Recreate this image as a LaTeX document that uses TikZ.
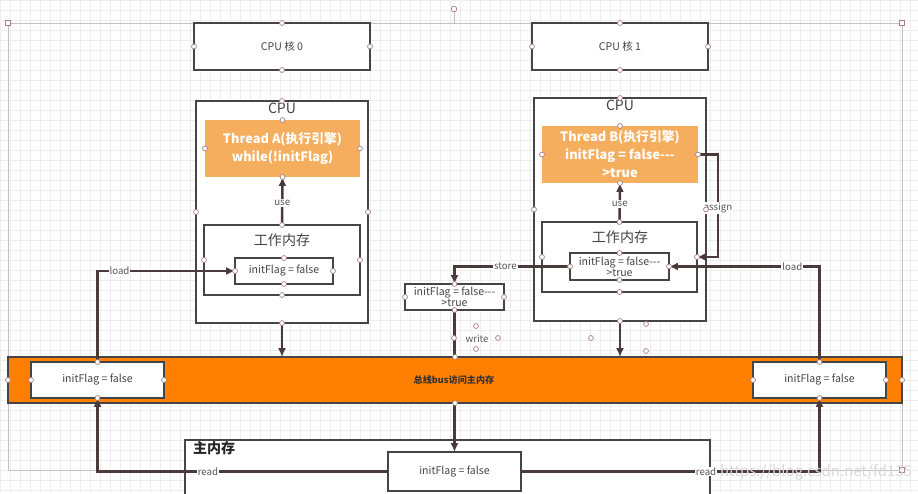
\documentclass[tikz,border=0pt]{standalone}
\usepackage{fontspec}
\setmainfont{Noto Sans CJK SC}
\usetikzlibrary{arrows.meta}
\definecolor{wire}{HTML}{4A3A3A}
\definecolor{edge}{HTML}{454545}
\definecolor{txt}{HTML}{444444}
\definecolor{lbltxt}{HTML}{555555}
\definecolor{engine}{HTML}{F5AE5E}
\definecolor{busc}{HTML}{FF8000}
\definecolor{hdlc}{HTML}{A88080}
\definecolor{gridc}{HTML}{EDEDED}
\definecolor{framec}{HTML}{C8C0C0}

\begin{document}
\begin{tikzpicture}[x=0.02cm, y=-0.02cm,
  sz/.style 2 args={minimum width=#1*0.02cm, minimum height=#2*0.02cm},
  every node/.style={inner sep=0pt, outer sep=0pt, text=txt, font=\fontsize{6}{6.4}\selectfont},
  box/.style={draw=edge, line width=0.9pt, fill=white, align=center},
  engine/.style={fill=engine, text=white, align=center, font=\bfseries\fontsize{7.3}{10.2}\selectfont},
  title/.style={font=\fontsize{8}{9}\selectfont},
  lbl/.style={fill=white, inner sep=0.6pt, text=lbltxt, font=\fontsize{5.5}{6}\selectfont},
  link/.style={draw=wire, line width=1.4pt},
  arr/.style={link, -{Latex[length=5pt,width=4.5pt]}},
  hdl/.style={draw=hdlc, fill=white, line width=0.4pt}]
\useasboundingbox (0,0) rectangle (918,493);
\fill[white] (0,0) rectangle (918,493);
\foreach \gx in {0,10,...,910} \draw[gridc, line width=0.3pt] (\gx,0) -- (\gx,493);
\foreach \gy in {0,10,...,490} \draw[gridc, line width=0.3pt] (0,\gy) -- (918,\gy);
\draw[framec, line width=0.5pt] (8,23) rectangle (902,470);
\draw[framec, line width=0.5pt] (454,23) -- (454,10);

\node[box, sz={176}{47}] (k0) at (282,46.5) {CPU 核 0};
\node[box, sz={176}{47}] (k1) at (620,46.5) {CPU 核 1};

\node[box, sz={172}{222}] (ca) at (282,212) {};
\node[title] (cal) at (282,108) {CPU};
\node[engine, sz={155}{57}] (ta) at (282.5,148.5) {Thread A(执行引擎)\\while(!initFlag)};
\node[box, sz={156}{70}] (wa) at (282,260) {};
\node[title] (wal) at (282,240) {工作内存};
\node[box, sz={98}{26}] (ia) at (284,271) {initFlag = false};

\node[box, sz={172}{223}] (cb) at (620,209.5) {};
\node[title] (cbl) at (620,105) {CPU};
\node[engine, sz={156}{57}] (tb) at (620,154.5) {Thread B(执行引擎)\\initFlag = false-{}-{}-\\>true};
\node[box, sz={155}{70}] (wb) at (619.5,257) {};
\node[title] (wbl) at (620,237) {工作内存};
\node[box, sz={99}{27}] (ib) at (619.5,266.5) {initFlag = false-{}-{}-\\>true};

\node[box, sz={99}{26}] (sb) at (454.5,297) {initFlag = false-{}-{}-\\>true};

\node[box, sz={525}{70}, anchor=north west] (mmain) at (185,440) {};
\node[font=\bfseries\fontsize{8}{9}\selectfont, text=black!85, anchor=north west] (mml) at (193,441) {主内存};
\node[box, sz={133}{39}] (mm) at (454.5,471.5) {initFlag = false};

\draw[arr] (sb.south) -- node[lbl, pos=0.2, anchor=west, xshift=0.2cm] (wl) {write} (mm.north);

\node[draw=edge, line width=0.9pt, fill=busc, sz={894}{46}] (bus) at (455,380) {};
\node[font=\bfseries\fontsize{5.2}{6}\selectfont, text=black!80] (busl) at (454,380) {总线bus访问主内存};
\node[box, sz={133}{36}] (lb) at (97.5,380) {initFlag = false};
\node[box, sz={133}{36}] (rb) at (819.5,380) {initFlag = false};

\draw[arr] (wa.north) -- node[lbl, pos=0.46] {use} (ta.south);
\draw[arr] (wb.north) -- node[lbl, pos=0.46] {use} (tb.south);
\draw[arr] (tb.east) -- ++(20,0) |- node[lbl, pos=0.26] {assign} (wb.east);
\draw[arr] (ib.west) -| node[lbl, pos=0.28] {store} (sb.north);
\draw[arr] (ca.south) -- (ca.south |- bus.north);
\draw[arr] (cb.south) -- (cb.south |- bus.north);
\draw[arr] (lb.north) |- node[lbl, pos=0.58] {load} (ia.west);
\draw[arr] (rb.north) |- node[lbl, pos=0.59] {load} (ib.east);
\draw[arr] (mm.west) -| node[lbl, pos=0.31] {read} (lb.south);
\draw[arr] (mm.east) -| node[lbl, pos=0.31] {read} (rb.south);

\foreach \n in {k0,k1,ca,cb,ta,tb,wa,wb,ia,ib,sb,lb,rb,bus}
  \foreach \a in {north,south,east,west}
    \draw[hdl] (\n.\a) circle[radius=1.4pt];
\foreach \hx/\hy in {476/326,476/349,454/338,498/338,591/338,646/324,646/351}
  \draw[hdl] (\hx,\hy) circle[radius=1.4pt];
\draw[hdl] (454,9) circle[radius=1.6pt];
\foreach \hx/\hy in {8/23,902/23,902/470}
  \draw[hdl] ([xshift=-1.3pt,yshift=-1.3pt]\hx,\hy) rectangle ([xshift=1.3pt,yshift=1.3pt]\hx,\hy);

\node[text=black!15, font=\fontsize{8.5}{9}\selectfont] (wm) at (816,472) {https://blog.csdn.net/fd135};
\end{tikzpicture}
\end{document}
